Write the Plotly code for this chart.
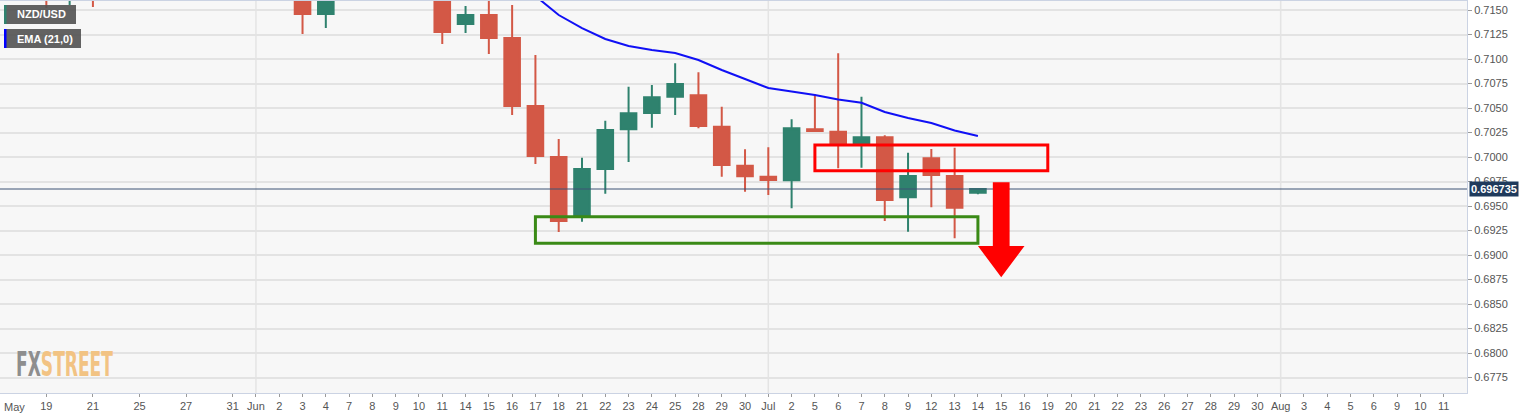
import pandas as pd
import plotly.graph_objects as go

# ---------------- data ----------------
dates = ["2021-05-17", "2021-05-18", "2021-05-19", "2021-05-20", "2021-05-21",
         "2021-05-24", "2021-05-25", "2021-05-26", "2021-05-27", "2021-05-28",
         "2021-05-31", "2021-06-01", "2021-06-02", "2021-06-03", "2021-06-04",
         "2021-06-07", "2021-06-08", "2021-06-09", "2021-06-10", "2021-06-11",
         "2021-06-14", "2021-06-15", "2021-06-16", "2021-06-17", "2021-06-18",
         "2021-06-21", "2021-06-22", "2021-06-23", "2021-06-24", "2021-06-25",
         "2021-06-28", "2021-06-29", "2021-06-30", "2021-07-01", "2021-07-02",
         "2021-07-05", "2021-07-06", "2021-07-07", "2021-07-08", "2021-07-09",
         "2021-07-12", "2021-07-13", "2021-07-14"]
open_ = [0.7190, 0.7195, 0.7220, 0.7170, 0.7185,
         0.7165, 0.7178, 0.7235, 0.7280, 0.7265,
         0.7250, 0.7260, 0.7245, 0.7230, 0.71459,
         0.7200, 0.7215, 0.7190, 0.7180, 0.7175,
         0.71357, 0.71449, 0.71214, 0.70520, 0.70000,
         0.69400, 0.69878, 0.70283, 0.70449, 0.70615,
         0.70630, 0.70310, 0.69911, 0.69799, 0.69762,
         0.70283, 0.70258, 0.70140, 0.70201, 0.69589,
         0.69987, 0.69806, 0.69636]
high = [0.7210, 0.7230, 0.7227, 0.7195, 0.7190,
        0.7185, 0.7245, 0.7290, 0.7300, 0.7285,
        0.7275, 0.7280, 0.7255, 0.7235, 0.7210,
        0.7230, 0.7220, 0.7210, 0.7210, 0.7180,
        0.7154, 0.7170, 0.7155, 0.71041, 0.70184,
        0.69993, 0.70370, 0.70717, 0.70735, 0.70956,
        0.70864, 0.70513, 0.70079, 0.70099, 0.70385,
        0.70640, 0.71058, 0.70615, 0.70221, 0.70044,
        0.70082, 0.70095, 0.69676]
low = [0.7175, 0.7185, 0.7152, 0.71551, 0.7153,
       0.71592, 0.7170, 0.7225, 0.7240, 0.7230,
       0.7245, 0.7235, 0.7205, 0.71255, 0.71316,
       0.7185, 0.7170, 0.7175, 0.7165, 0.71153,
       0.71265, 0.71051, 0.70429, 0.69929, 0.69235,
       0.69340, 0.69626, 0.69949, 0.70299, 0.70429,
       0.70293, 0.69799, 0.69646, 0.69612, 0.69477,
       0.70260, 0.69885, 0.69891, 0.69347, 0.69238,
       0.69487, 0.69170, 0.69620]
close = [0.7195, 0.7220, 0.7168, 0.7185, 0.7165,
         0.7178, 0.7235, 0.7280, 0.7265, 0.7250,
         0.7260, 0.7245, 0.7230, 0.71459, 0.7200,
         0.7215, 0.7190, 0.7180, 0.7175, 0.71276,
         0.71449, 0.71214, 0.70520, 0.70010, 0.69347,
         0.69878, 0.70276, 0.70446, 0.70609, 0.70745,
         0.70316, 0.69918, 0.69803, 0.69765, 0.70293,
         0.70265, 0.70133, 0.70201, 0.69561, 0.69806,
         0.69816, 0.69483, 0.696735]

ema_dates = ["2021-06-16", "2021-06-17", "2021-06-18", "2021-06-21", "2021-06-22",
             "2021-06-23", "2021-06-24", "2021-06-25", "2021-06-28", "2021-06-29",
             "2021-06-30", "2021-07-01", "2021-07-02", "2021-07-05", "2021-07-06",
             "2021-07-07", "2021-07-08", "2021-07-09", "2021-07-12", "2021-07-13",
             "2021-07-14"]
ema_values = [0.71857, 0.71643, 0.71449, 0.71316, 0.71204,
              0.71133, 0.71092, 0.71061, 0.70990, 0.70888,
              0.70796, 0.70704, 0.70668, 0.70633, 0.70587,
              0.70554, 0.70459, 0.70398, 0.70347, 0.70270,
              0.70214]

last_price = 0.696735

x_tick_dates = ["2021-05-19", "2021-05-21", "2021-05-25", "2021-05-27", "2021-05-31",
                "2021-06-01", "2021-06-02", "2021-06-03", "2021-06-04", "2021-06-07",
                "2021-06-08", "2021-06-09", "2021-06-10", "2021-06-11", "2021-06-14",
                "2021-06-15", "2021-06-16", "2021-06-17", "2021-06-18", "2021-06-21",
                "2021-06-22", "2021-06-23", "2021-06-24", "2021-06-25", "2021-06-28",
                "2021-06-29", "2021-06-30", "2021-07-01", "2021-07-02", "2021-07-05",
                "2021-07-06", "2021-07-07", "2021-07-08", "2021-07-09", "2021-07-12",
                "2021-07-13", "2021-07-14", "2021-07-15", "2021-07-16", "2021-07-19",
                "2021-07-20", "2021-07-21", "2021-07-22", "2021-07-23", "2021-07-26",
                "2021-07-27", "2021-07-28", "2021-07-29", "2021-07-30", "2021-08-02",
                "2021-08-03", "2021-08-04", "2021-08-05", "2021-08-06", "2021-08-09",
                "2021-08-10", "2021-08-11"]
x_tick_labels = ["19", "21", "25", "27", "31",
                 "Jun", "2", "3", "4", "7",
                 "8", "9", "10", "11", "14",
                 "15", "16", "17", "18", "21",
                 "22", "23", "24", "25", "28",
                 "29", "30", "Jul", "2", "5",
                 "6", "7", "8", "9", "12",
                 "13", "14", "15", "16", "19",
                 "20", "21", "22", "23", "26",
                 "27", "28", "29", "30", "Aug",
                 "3", "4", "5", "6", "9",
                 "10", "11"]
first_month_label = "May"
month_starts = ["2021-06-01", "2021-07-01", "2021-08-02"]

y_tick_vals = [0.6775, 0.6800, 0.6825, 0.6850, 0.6875, 0.6900, 0.6925, 0.6950,
               0.6975, 0.7000, 0.7025, 0.7050, 0.7075, 0.7100, 0.7125, 0.7150]

support_zone = {"start": "2021-06-17", "end": "2021-07-14", "low": 0.69119, "high": 0.69391}
resistance_zone = {"start": "2021-07-05", "end": "2021-07-19", "low": 0.69860, "high": 0.70122}
arrow = {"date": "2021-07-15", "top": 0.69742, "neck": 0.69092, "tip": 0.68773}

# ---------------- axis day index ----------------
axis_days = [d.strftime("%Y-%m-%d") for d in pd.bdate_range("2021-05-17", "2021-08-11")]
pos = {d: i for i, d in enumerate(axis_days)}

x = [pos[d] for d in dates]
x_ema = [pos[d] for d in ema_dates]

GREEN = "#2f826e"
RED = "#d35846"
FONT = "Liberation Sans, Arial, sans-serif"

fig = go.Figure()
fig.add_trace(go.Candlestick(
    x=x, open=open_, high=high, low=low, close=close,
    increasing=dict(line=dict(color=GREEN, width=2), fillcolor=GREEN),
    decreasing=dict(line=dict(color=RED, width=2), fillcolor=RED),
    whiskerwidth=0, showlegend=False, hoverinfo="skip",
))
fig.add_trace(go.Scatter(
    x=x_ema, y=ema_values, mode="lines",
    line=dict(color="#1010f5", width=2), showlegend=False, hoverinfo="skip",
))

shapes = []
for m in month_starts:
    shapes.append(dict(type="line", xref="x", yref="paper", x0=pos[m], x1=pos[m],
                       y0=0, y1=1, line=dict(color="#e4e4e4", width=1.5), layer="below"))
shapes.append(dict(type="line", xref="paper", yref="y", x0=0, x1=1,
                   y0=last_price, y1=last_price, line=dict(color="#3d5275", width=1)))
shapes.append(dict(type="rect", xref="x", yref="y",
                   x0=pos[support_zone["start"]], x1=pos[support_zone["end"]],
                   y0=support_zone["low"], y1=support_zone["high"],
                   line=dict(color="#3a8a16", width=3), fillcolor="rgba(0,0,0,0)"))
shapes.append(dict(type="rect", xref="x", yref="y",
                   x0=pos[resistance_zone["start"]], x1=pos[resistance_zone["end"]],
                   y0=resistance_zone["low"], y1=resistance_zone["high"],
                   line=dict(color="#ff0000", width=3), fillcolor="rgba(0,0,0,0)"))
ax = pos[arrow["date"]]
path = (f"M {ax-0.36},{arrow['top']} L {ax+0.36},{arrow['top']} "
        f"L {ax+0.36},{arrow['neck']} L {ax+1.0},{arrow['neck']} "
        f"L {ax},{arrow['tip']} L {ax-1.0},{arrow['neck']} "
        f"L {ax-0.36},{arrow['neck']} Z")
shapes.append(dict(type="path", xref="x", yref="y", path=path,
                   fillcolor="#ff0000", line=dict(color="#ff0000", width=0)))

PW, PH, PT = 1467.0, 392.0, 1.0
def px(v):
    return v / PW
def py(v):
    return 1 - (v - PT) / PH

shapes.append(dict(type="rect", xref="paper", yref="paper", x0=px(4), x1=px(76),
                   y0=py(24), y1=py(5), fillcolor="rgba(85,85,85,0.92)", line=dict(width=0)))
shapes.append(dict(type="rect", xref="paper", yref="paper", x0=px(4), x1=px(6.5),
                   y0=py(24), y1=py(5), fillcolor=GREEN, line=dict(width=0)))
shapes.append(dict(type="rect", xref="paper", yref="paper", x0=px(4), x1=px(81),
                   y0=py(48), y1=py(29), fillcolor="rgba(85,85,85,0.92)", line=dict(width=0)))
shapes.append(dict(type="rect", xref="paper", yref="paper", x0=px(4), x1=px(6.5),
                   y0=py(48), y1=py(29), fillcolor="#0000ff", line=dict(width=0)))

annotations = [
    dict(xref="paper", yref="paper", x=px(15), y=py(14.5), xanchor="left", yanchor="middle",
         text="<b>NZD/USD</b>", showarrow=False, font=dict(family=FONT, size=11, color="white")),
    dict(xref="paper", yref="paper", x=px(15), y=py(38.5), xanchor="left", yanchor="middle",
         text="<b>EMA (21,0)</b>", showarrow=False, font=dict(family=FONT, size=11, color="white")),
    dict(xref="paper", yref="y", x=px(1469), y=last_price, xanchor="left", yanchor="middle",
         text="<b>0.696735</b>", showarrow=False, bgcolor="#1f3a5c", borderpad=1,
         font=dict(family=FONT, size=11, color="white")),
    dict(xref="paper", yref="paper", x=0, y=0, xanchor="left", yanchor="top", xshift=2, yshift=-6,
         text=first_month_label, showarrow=False, font=dict(family=FONT, size=11, color="#555555")),
    dict(xref="paper", yref="paper", x=px(14), y=py(364), xanchor="left", yanchor="middle",
         text="<b><span style='color:#8e8e8e'>FX</span><span style='color:#f2c383'>STREET</span></b>",
         showarrow=False,
         font=dict(family="Liberation Sans Narrow, Arial Narrow, DejaVu Sans Condensed, sans-serif",
                   size=34)),
]

fig.update_layout(
    width=1536, height=418,
    margin=dict(l=0, r=69, t=1, b=25),
    paper_bgcolor="white", plot_bgcolor="#f7f7f7",
    shapes=shapes, annotations=annotations,
    boxgap=0.33, boxgroupgap=0,
    showlegend=False,
    xaxis=dict(range=[0.01, 63.0], tickmode="array",
               tickvals=[pos[d] for d in x_tick_dates], ticktext=x_tick_labels,
               showgrid=False, zeroline=False, rangeslider=dict(visible=False),
               showline=True, linecolor="#cbd3e3", linewidth=1, mirror=True,
               ticks="outside", ticklen=3, tickcolor="#9a9a9a",
               tickfont=dict(family=FONT, size=11, color="#555555"),
               fixedrange=True),
    yaxis=dict(side="right", range=[0.67592, 0.71592], tickmode="array",
               tickvals=y_tick_vals, tickformat=".4f",
               showgrid=True, gridcolor="#e3e3e3", gridwidth=1.5, zeroline=False,
               showline=True, linecolor="#cbd3e3", linewidth=1, mirror=True,
               ticks="outside", ticklen=4, tickcolor="#9a9a9a",
               tickfont=dict(family=FONT, size=11, color="#555555"),
               fixedrange=True),
)

post = """
document.body.style.margin = '0';
document.body.style.overflow = 'hidden';
function squeezeLogo() {
  document.querySelectorAll('text.annotation-text').forEach(function (t) {
    if (t.textContent === 'FXSTREET') {
      var bb = t.getBBox();
      var target = 97.0;
      var s = target / bb.width;
      var x0 = bb.x;
      t.setAttribute('transform', 'translate(' + x0 + ',0) scale(' + s + ',1) translate(' + (-x0) + ',0)');
    }
  });
}
squeezeLogo();
var gdiv = document.getElementById('{plot_id}');
if (gdiv && gdiv.on) { gdiv.on('plotly_afterplot', squeezeLogo); }
"""

fig.write_html("out.html", config={"displayModeBar": False}, post_script=post)
